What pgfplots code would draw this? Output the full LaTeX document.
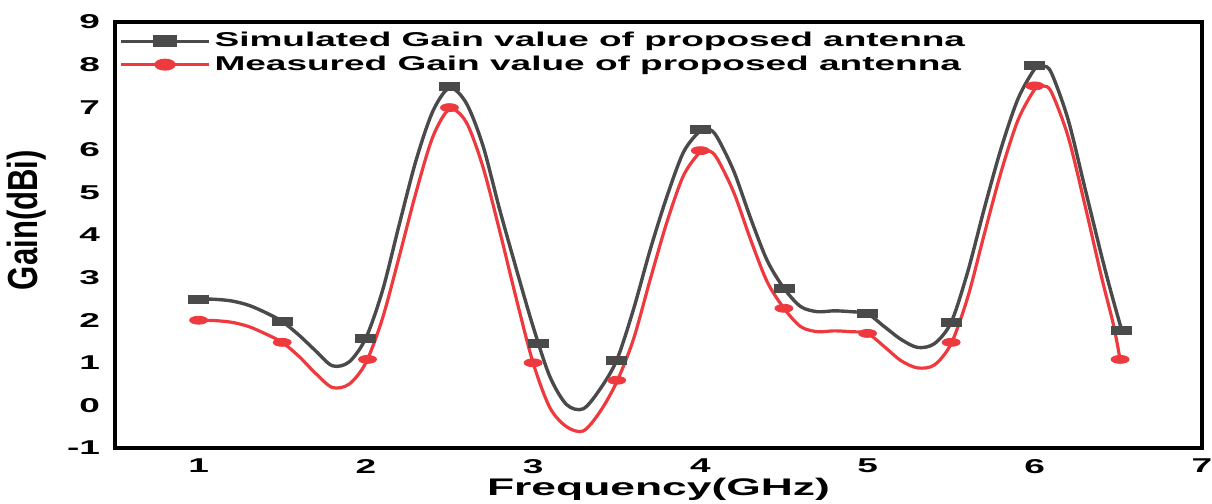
\documentclass[border=0pt]{standalone}
\usepackage{pgfplots}
\pgfplotsset{compat=1.18}
\usepackage{fontspec}
\setmainfont{Liberation Sans}[FakeStretch=1.85]
\newfontfamily\ylabfont{Liberation Sans}[FakeStretch=0.74]
\definecolor{simc}{HTML}{4A4A4A}
\definecolor{meac}{HTML}{EE3A3F}
\pgfplotstableread{
x y
1.0 2.50
1.1 2.49
1.2 2.45
1.3 2.35
1.4 2.18
1.5 1.97
1.6 1.65
1.7 1.28
1.8 0.93
1.9 1.02
2.0 1.58
2.1 2.70
2.2 4.25
2.3 5.75
2.4 6.90
2.5 7.45
2.6 7.10
2.7 6.10
2.8 4.60
2.9 3.20
3.0 1.85
3.1 0.68
3.2 0.02
3.3 -0.08
3.4 0.38
3.5 1.06
3.6 2.25
3.7 3.65
3.8 4.90
3.9 5.95
4.0 6.45
4.05 6.49
4.1 6.30
4.2 5.50
4.3 4.40
4.4 3.40
4.5 2.75
4.6 2.32
4.7 2.20
4.8 2.22
4.9 2.20
5.0 2.15
5.1 1.85
5.2 1.55
5.3 1.36
5.4 1.45
5.5 1.95
5.6 3.15
5.7 4.65
5.8 6.05
5.9 7.20
6.0 7.90
6.05 7.97
6.1 7.80
6.2 6.70
6.3 5.10
6.4 3.50
6.46 2.60
6.52 1.76
}\simcurve
\pgfplotstableread{
x y
1.0 2.00
1.1 1.99
1.2 1.95
1.3 1.85
1.4 1.68
1.5 1.48
1.6 1.15
1.7 0.75
1.8 0.42
1.9 0.50
2.0 1.00
2.1 2.05
2.2 3.50
2.3 5.00
2.4 6.30
2.5 6.95
2.6 6.65
2.7 5.60
2.8 4.10
2.9 2.50
3.0 1.00
3.1 -0.05
3.2 -0.50
3.3 -0.60
3.4 -0.15
3.5 0.55
3.6 1.55
3.7 2.95
3.8 4.30
3.9 5.40
4.0 5.95
4.05 5.98
4.1 5.80
4.2 5.00
4.3 3.90
4.4 2.90
4.5 2.28
4.6 1.85
4.7 1.73
4.8 1.75
4.9 1.73
5.0 1.69
5.1 1.38
5.2 1.05
5.3 0.88
5.4 0.95
5.5 1.45
5.6 2.55
5.7 4.05
5.8 5.50
5.9 6.70
6.0 7.42
6.05 7.50
6.1 7.35
6.2 6.30
6.3 4.70
6.4 3.00
6.47 1.90
6.51 1.08
}\meacurve
\pgfplotstableread{
x y
1 2.5
1.5 1.97
2 1.58
2.5 7.48
3.03 1.46
3.5 1.06
4 6.49
4.5 2.75
5 2.16
5.5 1.95
6 7.97
6.52 1.76
}\simmarks
\pgfplotstableread{
x y
1 2.0
1.5 1.48
2.01 1.08
2.5 6.99
3 1.0
3.5 0.59
4 5.98
4.5 2.28
5 1.69
5.5 1.48
6 7.5
6.51 1.08
}\meamarks
\begin{document}
\begin{tikzpicture}
\begin{axis}[name=ax,
  scale only axis, width=543.5pt, height=213pt,
  xmin=0.5, xmax=7, ymin=-1, ymax=9,
  xtick={1,...,7}, ytick={-1,0,...,9},
  major tick length=0pt,
  axis line style={line width=2pt},
  /pgf/number format/assume math mode=true,
  ticklabel style={font=\fontsize{10}{11}\selectfont\bfseries},
  xticklabel style={yshift=-2pt},
  yticklabel style={xshift=-4pt},
  xlabel={Frequency(GHz)},
  xlabel style={font=\fontsize{12}{13}\selectfont\bfseries, at={(axis description cs:0.5,0)}, anchor=north, inner sep=0pt, yshift=-15pt},
  ylabel={Gain(dBi)},
  ylabel style={font=\ylabfont\fontsize{21}{22}\selectfont\bfseries, at={(axis description cs:-0.081,0.535)}, anchor=center, inner sep=0pt},
  legend style={draw=none, fill=none, at={(0,1)}, anchor=north west, font=\fontsize{10}{11}\selectfont\bfseries, row sep=-1pt, inner xsep=2pt, inner ysep=3pt, cells={anchor=west}},
  clip=false,
]
\addplot[color=simc, line width=1.7pt, smooth, no marks,
  legend image code/.code={\draw[simc,line width=1.6pt] (0pt,0pt) -- (44pt,0pt); \fill[simc] (22pt,0pt) ++(-5pt,-2pt) rectangle ++(10pt,4pt);}]
table[x=x,y=y] {\simcurve};
\addlegendentry{Simulated Gain value of proposed antenna}
\addplot[color=meac, line width=1.6pt, smooth, no marks,
  legend image code/.code={\draw[meac,line width=1.5pt] (0pt,0pt) -- (44pt,0pt); \fill[meac] (22pt,0pt) ellipse [x radius=4.5pt, y radius=2.2pt];}]
table[x=x,y=y] {\meacurve};
\addlegendentry{Measured Gain value of proposed antenna}
\addplot[forget plot, only marks, mark=square*, color=simc, mark size=2pt, mark options={xscale=2.5}]
table[x=x,y=y] {\simmarks};
\addplot[forget plot, only marks, mark=*, color=meac, mark size=2pt, mark options={xscale=2.25}]
table[x=x,y=y] {\meamarks};
\end{axis}
\pgfresetboundingbox
\path[use as bounding box] ([shift={(-57.5pt,-27.5pt)}]ax.south west) rectangle ([shift={(5pt,11pt)}]ax.north east);
\end{tikzpicture}
\end{document}
